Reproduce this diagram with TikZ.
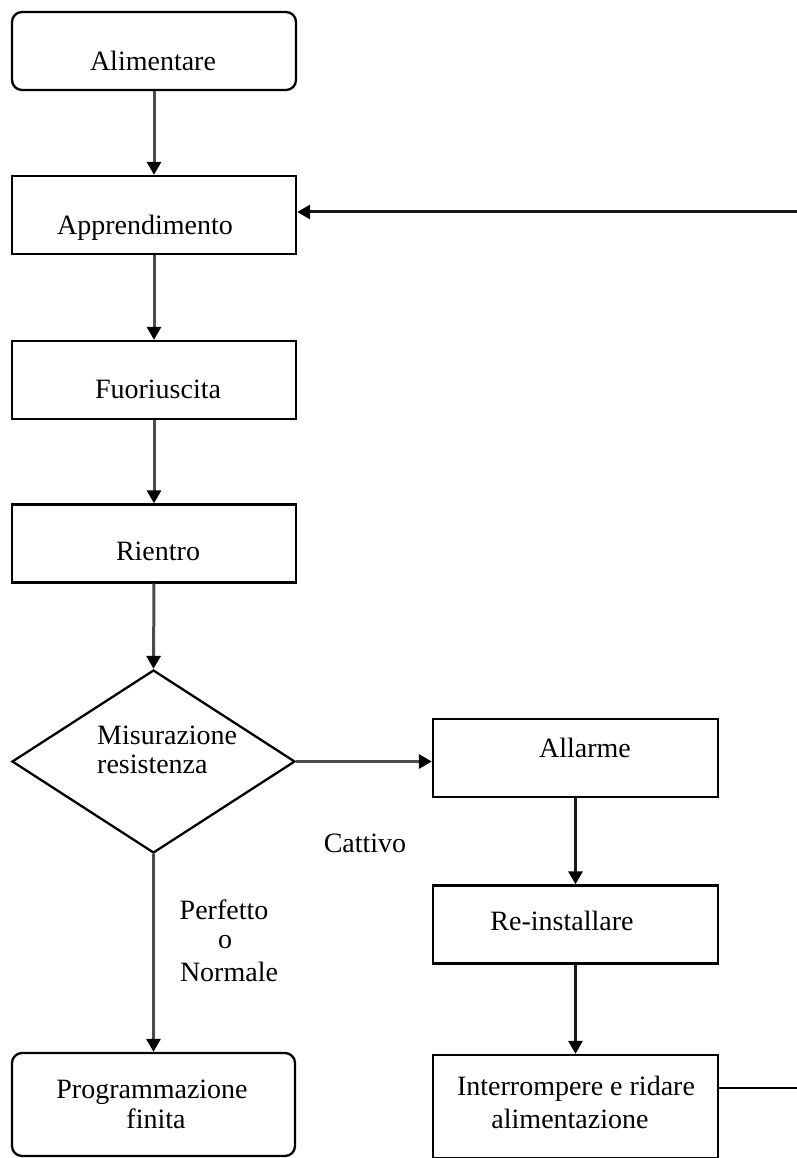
\documentclass[tikz,border=0pt]{standalone}
\usepackage{fontspec}
\setmainfont{Liberation Serif}
\usetikzlibrary{arrows.meta,shapes.geometric}
\newcommand{\fsz}{\fontsize{28}{30}\selectfont}
\begin{document}
\begin{tikzpicture}[x=1pt,y=-1pt,
  box/.style={draw=black, line width=2.3pt, rectangle, inner sep=0pt, minimum width=284pt, minimum height=78pt},
  rbox/.style={box, rounded corners=10pt},
  lbl/.style={anchor=base, inner sep=0pt, font=\fsz},
  lbll/.style={anchor=base west, inner sep=0pt, font=\fsz},
  arr/.style={draw=black!70, line width=3pt, -{Triangle[length=13pt,width=14pt,color=black]}},
  lin/.style={draw=black, line width=2.6pt},
  arrk/.style={draw=black!90, line width=3pt, -{Triangle[length=13pt,width=14pt,color=black]}}]
\useasboundingbox (0,0) rectangle (796,1158);
% boxes
\node[rbox] (alim) at (154,51) {};
\node[box] (appr) at (154,215) {};
\node[box] (fuor) at (154,380) {};
\node[box] (rien) at (154,543.5) {};
\node[draw=black, line width=2.3pt, diamond, aspect=1.55, inner sep=0pt, minimum width=283pt, minimum height=183pt] (mis) at (153.5,761.5) {};
\node[box, minimum width=285pt] (allr) at (575.5,758) {};
\node[box, minimum width=285pt] (rein) at (575.5,924.5) {};
\node[box, minimum width=285pt, minimum height=103pt] (intr) at (575.5,1106.5) {};
\node[rbox, minimum width=283pt, minimum height=103pt] (prog) at (153.5,1104.5) {};
% texts
\node[lbl] (t1) at (153,71) {Alimentare};
\node[lbl] (t2) at (145,235) {Apprendimento};
\node[lbl] (t3) at (158,398) {Fuoriuscita};
\node[lbl] (t4) at (158,560) {Rientro};
\node[lbll] (t5a) at (97,744) {Misurazione};
\node[lbll] (t5b) at (97,773) {resistenza};
\node[lbl] (t6) at (585,757) {Allarme};
\node[lbl] (t7) at (562,930) {Re-installare};
\node[lbl] (t8a) at (576,1095) {Interrompere e ridare};
\node[lbl] (t8b) at (570,1128) {alimentazione};
\node[lbl] (t9a) at (152,1098) {Programmazione};
\node[lbl] (t9b) at (156,1128) {finita};
\node[lbl] (c1) at (365,852) {Cattivo};
\node[lbl] (p1) at (224,919) {Perfetto};
\node[lbl] (p2) at (225,948) {o};
\node[lbl] (p3) at (229,981) {Normale};
% connectors
\coordinate (r1) at (800,212);
\coordinate (r2) at (800,1088);
\draw[arr] (alim.south) -- (appr.north);
\draw[arr] (appr.south) -- (fuor.north);
\draw[arr] (fuor.south) -- (rien.north);
\draw[arr] (rien.south) -- (mis.north);
\draw[arr] (mis.south) -- (prog.north);
\draw[arr] (mis.east) -- (allr.west |- mis.east);
\draw[arrk] (allr.south) -- (rein.north);
\draw[arrk] (rein.south) -- (intr.north);
\draw[arrk] (r1) -- (appr.east |- r1);
\draw[lin] (intr.east |- r2) -- (r2);
\end{tikzpicture}
\end{document}
